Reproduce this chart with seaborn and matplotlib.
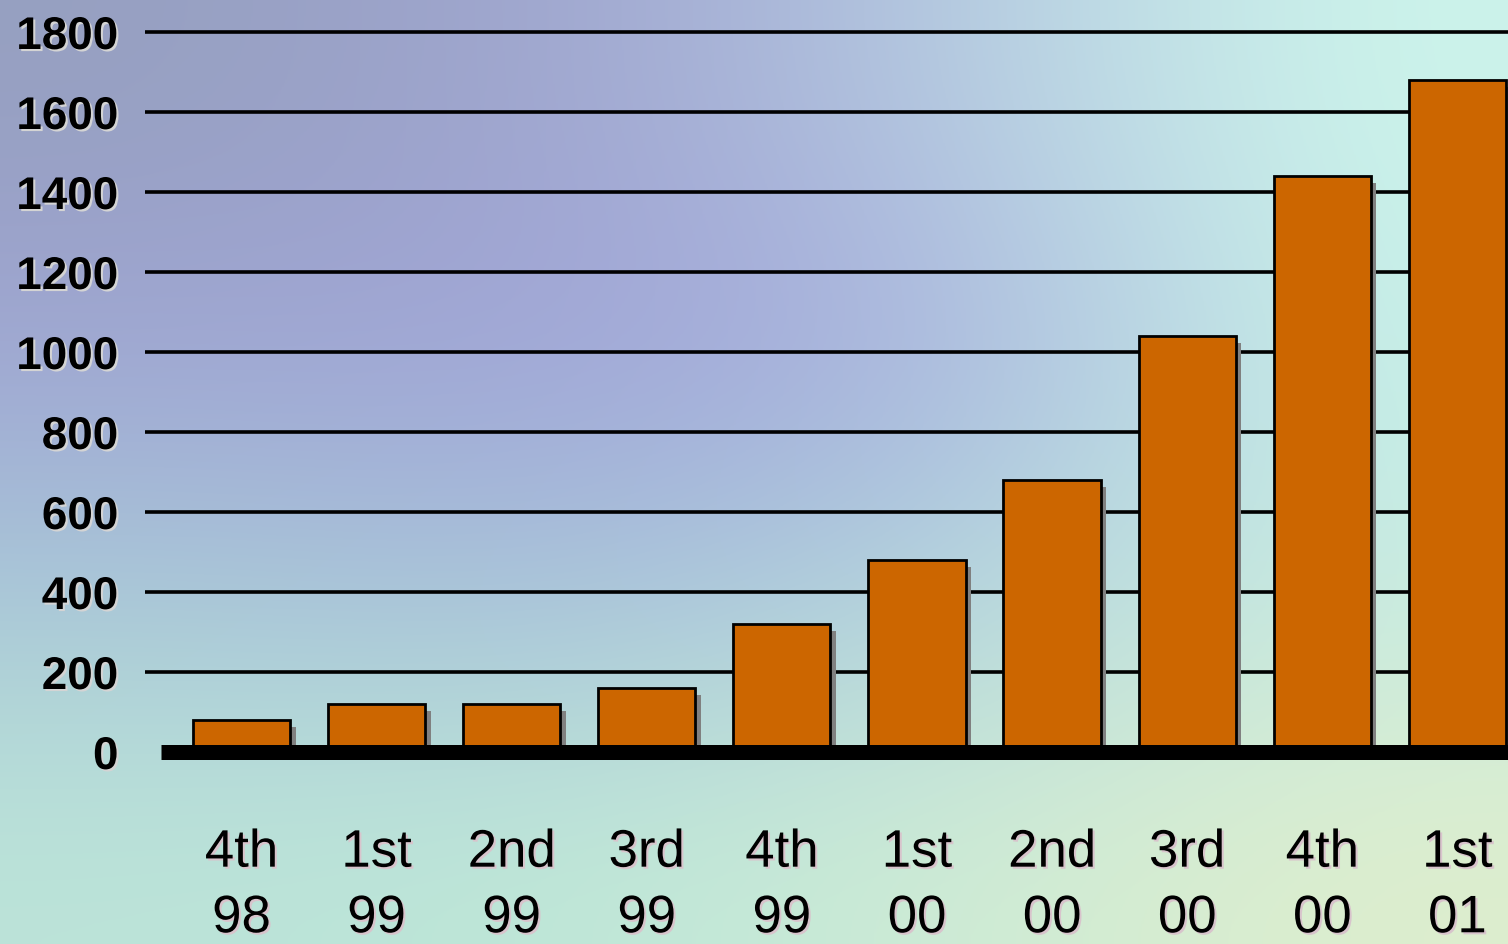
import numpy as np
import pandas as pd
import matplotlib
matplotlib.use("Agg")
import matplotlib.pyplot as plt
import matplotlib.patheffects as pe
import seaborn as sns

# ---- data ----
quarters = ["4th", "1st", "2nd", "3rd", "4th", "1st", "2nd", "3rd", "4th", "1st"]
years = ["98", "99", "99", "99", "99", "00", "00", "00", "00", "01"]
values = [80, 120, 120, 160, 320, 480, 680, 1040, 1440, 1680]
yticks = [0, 200, 400, 600, 800, 1000, 1200, 1400, 1600, 1800]

labels = [f"{q}\n{y}" for q, y in zip(quarters, years)]
df = pd.DataFrame({"label": labels, "value": values})

sns.set_theme(style="white")
plt.rcParams["font.family"] = ["Liberation Sans", "DejaVu Sans"]

W, H = 1508, 945
fig = plt.figure(figsize=(W / 100, H / 100), dpi=100)

# ---- background gradient ----
bg_ax = fig.add_axes([0, 0, 1, 1], zorder=0)
grid = np.array([
    [(150, 160, 192), (160, 165, 208), (180, 200, 225), (205, 245, 235)],
    [(160, 165, 212), (160, 163, 216), (168, 175, 222), (200, 242, 232)],
    [(168, 200, 216), (166, 192, 218), (176, 212, 222), (200, 236, 226)],
    [(188, 228, 216), (190, 232, 216), (206, 236, 214), (222, 238, 205)],
], dtype=float) / 255.0
bg_ax.imshow(grid, aspect="auto", interpolation="bicubic", extent=[0, 1, 0, 1])
bg_ax.set_xlim(0, 1)
bg_ax.set_ylim(0, 1)
bg_ax.set_axis_off()

# ---- main axes ----
left_px, right_px, top_px, bottom_px = 145, 1508, 20, 762
ax = fig.add_axes([left_px / W, 1 - bottom_px / H,
                   (right_px - left_px) / W, (bottom_px - top_px) / H], zorder=1)
ax.patch.set_alpha(0)

sns.barplot(data=df, x="label", y="value", color="#CC6600", saturation=1,
            edgecolor="black", linewidth=2, width=0.72, ax=ax, zorder=3)

for p in ax.patches:
    p.set_path_effects([pe.SimplePatchShadow(offset=(4, -5), shadow_rgbFace="#808080", alpha=1),
                        pe.Normal()])

ax.set_ylim(-22.5, 1832.5)
ax.set_xlim(-0.714, 9.375)
ax.set_yticks(yticks)
ax.set_yticklabels([str(t) for t in yticks])
ax.yaxis.grid(True, color="black", linewidth=2.6)
ax.xaxis.grid(False)
ax.set_axisbelow(True)
for s in ax.spines.values():
    s.set_visible(False)
ax.get_ygridlines()[0].set_visible(False)

ax.axhline(0, xmin=(161 - left_px) / (right_px - left_px), xmax=1,
           color="black", linewidth=10.8, zorder=5, clip_on=False,
           solid_capstyle="butt")

ax.set_xlabel("")
ax.set_ylabel("")
ax.tick_params(axis="y", length=0, pad=19, labelsize=33)
ax.tick_params(axis="x", length=0, pad=48, labelsize=38)

for t in ax.get_yticklabels():
    t.set_fontweight("bold")
    t.set_color("black")
    t.set_path_effects([pe.withSimplePatchShadow(offset=(1.5, -1.5), shadow_rgbFace="#d4d4d4", alpha=1)])
for t in ax.get_xticklabels():
    t.set_color("black")
    t.set_linespacing(1.4)
    t.set_path_effects([pe.withSimplePatchShadow(offset=(1.5, -1.5), shadow_rgbFace="#d8c4cc", alpha=1)])

fig.savefig("out.png", dpi=100)
